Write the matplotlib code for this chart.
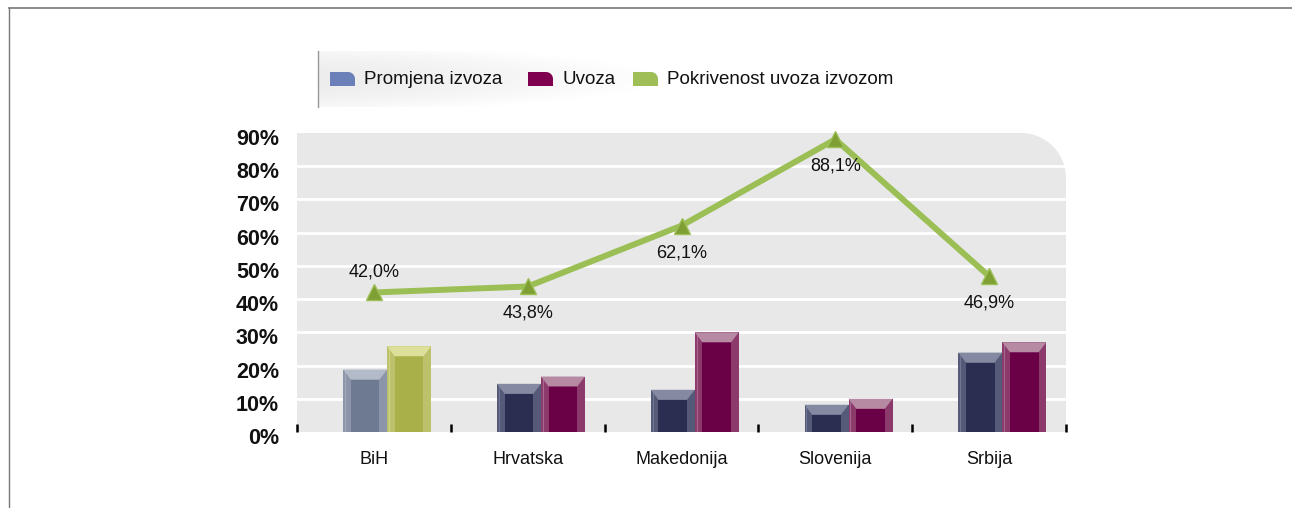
import matplotlib
matplotlib.use("Agg")
import matplotlib.pyplot as plt
import matplotlib.transforms as mtransforms
import numpy as np
from matplotlib.patches import Polygon, Rectangle, PathPatch
from matplotlib.path import Path
from matplotlib.lines import Line2D

countries = ["BiH", "Hrvatska", "Makedonija", "Slovenija", "Srbija"]
promjena_izvoza = [18.8, 14.5, 12.7, 8.2, 23.9]
uvoza = [25.8, 16.7, 30.0, 10.0, 27.0]
pokrivenost = [42.0, 43.8, 62.1, 88.1, 46.9]
pokr_labels = ["42,0%", "43,8%", "62,1%", "88,1%", "46,9%"]
label_above = [True, False, False, False, False]
yticks = [0, 10, 20, 30, 40, 50, 60, 70, 80, 90]
legend_names = ["Promjena izvoza", "Uvoza", "Pokrivenost uvoza izvozom"]
legend_colors = ["#6b7fb8", "#800050", "#9fbe55"]

# (face, side, top) colours for bevelled bars
navy = ("#2b2e50", "#555a78", "#858aa2")
maroon = ("#6a0045", "#8c3a6c", "#b78aa4")
grey_blue = ("#6e7a92", "#8b94a9", "#b3bac8")
olive = ("#a9b04a", "#bcc26c", "#dde09a")

txt_font = ["Liberation Sans", "DejaVu Sans"]

fig = plt.figure(figsize=(12.92, 5.08), dpi=100)
fig.patch.set_facecolor("white")

# outer frame lines
fig.add_artist(Line2D([9/1292, 1], [1 - 8/508, 1 - 8/508], transform=fig.transFigure, color="#777777", lw=1.2))
fig.add_artist(Line2D([9/1292, 9/1292], [0, 1 - 8/508], transform=fig.transFigure, color="#777777", lw=1.0))

ax = fig.add_axes([297/1292, 1 - 432/508, 769/1292, 299/508])
ax.set_xlim(-0.5, len(countries) - 0.5)
ax.set_ylim(0, 90)
ax.set_facecolor("none")

# background with rounded top-right corner (axes fraction)
rx, ry = 45/769, 45/299
pts = [(0, 0), (1, 0), (1, 1 - ry)]
for t in np.linspace(0, np.pi/2, 20):
    pts.append((1 - rx + rx*np.cos(t), 1 - ry + ry*np.sin(t)))
pts += [(0, 1), (0, 0)]
ax.add_patch(PathPatch(Path(pts), transform=ax.transAxes, facecolor="#e8e8e8", edgecolor="none", zorder=0))

for y in yticks[1:-1]:
    ax.axhline(y, color="white", lw=2, zorder=1)

for s in ax.spines.values():
    s.set_visible(False)

bw = 0.286
sw = 0.05
tb = 3.0


def bevel_bar(xc, h, cols):
    face, side, top = cols
    x0, x1 = xc - bw/2, xc + bw/2
    ax.add_patch(Rectangle((x0, 0), bw, h, facecolor=side, edgecolor="none", zorder=3))
    ax.add_patch(Rectangle((x0 + sw, 0), bw - 2*sw, h - tb, facecolor=face, edgecolor="none", zorder=4))
    ax.add_patch(Polygon([(x0, h), (x1, h), (x1 - sw, h - tb), (x0 + sw, h - tb)],
                         closed=True, facecolor=top, edgecolor="none", zorder=4))
    ax.plot([x0 + 0.012, x0 + 0.012], [0, h - 0.5], color=top, lw=0.8, alpha=0.6, zorder=5)


x = np.arange(len(countries))
for i in range(len(countries)):
    c1 = grey_blue if i == 0 else navy
    c2 = olive if i == 0 else maroon
    bevel_bar(x[i] - 0.057, promjena_izvoza[i], c1)
    bevel_bar(x[i] + 0.229, uvoza[i], c2)

ax.plot(x, pokrivenost, color="#9bbf55", lw=4.3, zorder=6, solid_capstyle="butt")
ax.plot(x, pokrivenost, linestyle="none", marker="^", markersize=12,
        markerfacecolor="#7f9f35", markeredgecolor="#9bbf55", markeredgewidth=1, zorder=7, clip_on=False)

for i, v in enumerate(pokrivenost):
    dy = 20 if label_above[i] else -27
    ax.annotate(pokr_labels[i], (x[i], v), xytext=(0, dy), textcoords="offset pixels",
                ha="center", va="center", fontsize=13, family=txt_font, color="#111111", zorder=8)

ax.set_yticks(yticks)
ax.set_yticklabels([f"{v}%" for v in yticks], fontsize=15.5, fontweight="bold",
                   family=txt_font, color="#111111")
ax.tick_params(axis="y", length=0, pad=13)
shift = mtransforms.ScaledTranslation(0, -4/100, fig.dpi_scale_trans)
for lab in ax.get_yticklabels():
    lab.set_transform(lab.get_transform() + shift)

ax.set_xticks(np.arange(-0.5, len(countries), 1.0))
ax.set_xticklabels([])
ax.tick_params(axis="x", which="major", direction="in", length=6, width=1.8, color="black")
ax.set_xticks(x, minor=True)
ax.set_xticklabels(countries, minor=True, fontsize=13, family=txt_font, color="#111111")
ax.tick_params(axis="x", which="minor", length=0, pad=14)

# legend with grey gradient background
lax = fig.add_axes([318/1292, 1 - 107/508, 345/1292, 56/508])
gx = np.linspace(0.0, 1.0, 256)
gy = np.linspace(-1, 1, 64)
shade = 0.93 + 0.07*np.clip(gx[None, :]**1.3 + 0.6*gy[:, None]**2, 0, 1)
lax.imshow(np.dstack([shade, shade, shade]), aspect="auto", extent=[0, 1, 0, 1])
lax.set_xlim(0, 1)
lax.set_ylim(0, 1)
lax.axis("off")
fig.add_artist(Line2D([318/1292, 318/1292], [1 - 107/508, 1 - 51/508], transform=fig.transFigure,
                      color="#999999", lw=1))

leg_x = [330, 528, 633]
for name, col, px in zip(legend_names, legend_colors, leg_x):
    x0, y0 = px/1292, 1 - 86/508
    w, h = 25/1292, 14/508
    rw, rh = 7/1292, 7/508
    p = [(x0, y0), (x0 + w, y0), (x0 + w, y0 + h - rh)]
    for t in np.linspace(0, np.pi/2, 10):
        p.append((x0 + w - rw + rw*np.cos(t), y0 + h - rh + rh*np.sin(t)))
    p += [(x0, y0 + h), (x0, y0)]
    fig.add_artist(PathPatch(Path(p), transform=fig.transFigure, facecolor=col, edgecolor="none"))
    fig.text(x0 + w + 9/1292, y0 + h/2, name, fontsize=13.5, family=txt_font, va="center",
             ha="left", color="#111111")

fig.savefig("out.png", dpi=100)
